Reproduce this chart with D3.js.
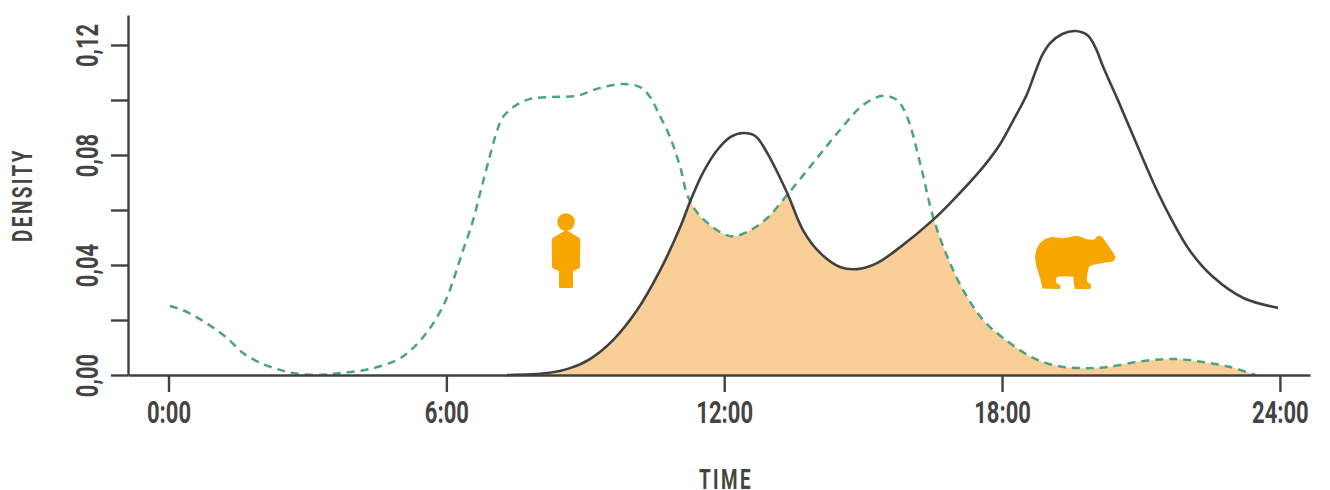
<!DOCTYPE html>
<html><head><meta charset="utf-8">
<script src="https://cdn.jsdelivr.net/npm/d3@7"></script>
<style>
html,body{margin:0;padding:0;background:#fff}
svg{display:block}
text{font-family:Roboto,"Liberation Sans",sans-serif;font-weight:700;fill:#444}
</style></head><body>
<svg id="c" width="1330" height="490"></svg>
<script>
const humanHours=[0.03,0.31,0.64,0.94,1.26,1.61,1.98,2.34,2.69,3.21,3.70,4.35,4.94,5.28,5.65,5.97,6.15,6.34,6.56,6.73,6.90,7.10,7.22,7.48,7.81,8.30,8.82,9.32,9.82,10.18,10.40,10.57,10.83,11.05,11.22,11.52,12.13,12.49,12.93,13.36,13.92,14.50,15.00,15.43,15.73,15.95,16.23,16.51,16.82,17.16,17.59,18.02,18.67,19.19,19.75,20.27,21.05,21.78,22.34,22.93,23.47];
const humanDensity=[.0251,.0236,.0207,.0175,.0135,.008,.0044,.0022,.0007,0,.0007,.0022,.0055,.0098,.0171,.0265,.0345,.0444,.0553,.0662,.0771,.0891,.0938,.0978,.1004,.1011,.1015,.1044,.1058,.1047,.1011,.0956,.0865,.0756,.0647,.0571,.0505,.052,.0571,.0655,.0771,.0891,.0982,.1015,.1,.0938,.0771,.0575,.0429,.0309,.02,.0135,.0062,.0033,.0025,.0029,.0051,.0058,.0047,.0029,0];
const bearHours=[7.31,8.18,8.67,9.10,9.60,10.12,10.62,11.05,11.26,11.54,11.85,12.13,12.41,12.67,12.93,13.36,13.70,14.07,14.50,14.87,15.30,15.80,16.51,16.88,17.59,17.96,18.24,18.54,18.71,18.87,19.04,19.30,19.58,19.84,20.01,20.18,20.49,20.83,21.26,21.63,22.06,22.56,23.21,23.96];
const bearDensity=[0,.0007,.0025,.0058,.0127,.0236,.0382,.0538,.0629,.0735,.0818,.0865,.088,.0869,.0807,.0662,.0527,.0444,.0393,.0385,.0407,.0465,.0564,.0625,.0756,.084,.0925,.1022,.1098,.1164,.1207,.124,.1251,.1236,.1193,.1122,.1004,.087,.0702,.0575,.0451,.0356,.028,.0244];
const xTicks=[0,6,12,18,24];
const xTickLabels=["0:00","6:00","12:00","18:00","24:00"];
const yTicks=[0,.02,.04,.06,.08,.10,.12];
const yTickLabels=["0,00","","0,04","","0,08","","0,12"];
const xTitle="TIME", yTitle="DENSITY";
const personOutline=[[0,8],[-13.5,16],[-14.3,18],[-14,45],[-13,46.5],[-7,49],[-7,65],[-6,66],[6,66],[7,65],[7,49],[13,46.5],[14,45],[14.3,18],[13.5,16]];
const bearOutline=[[1042.5,288.5],[1040,278],[1036,265],[1035,256.7],[1036.5,249],[1040,243],[1045,239],[1051.7,237],[1057,237.5],[1063,238.3],[1070,237],[1076.7,235.7],[1082,237.3],[1086.7,239.3],[1091,239.8],[1095,239.3],[1097,236.5],[1099,235.7],[1101.5,236.5],[1103,238],[1106.5,243],[1110,248],[1113,252.5],[1115.7,257.3],[1114,260.5],[1111.7,261.7],[1105,262.5],[1098,264],[1092,265],[1089,266.7],[1087.5,273],[1086.7,280],[1088,282.5],[1090.7,284.3],[1091,287.5],[1090,289],[1075,289],[1073.8,283],[1073.3,276.7],[1065,276.3],[1056.7,276.7],[1056,281.7],[1057,283.5],[1060,285],[1060.5,287.5],[1059.5,289]];

const INK="#404040",GREEN="#4da284",ORANGE="#f7a600",FILL="#f9cf97";
const svg=d3.select("#c");
const x=d3.scaleLinear().domain([-0.875,24.65]).range([128,1310]);
const y=d3.scaleLinear().domain([0,.1309]).range([375,15]);
const human=humanHours.map((h,i)=>[h,humanDensity[i]]);
const bear=bearHours.map((h,i)=>[h,bearDensity[i]]);
const curve=d3.curveCatmullRom.alpha(.5);
const line=d3.line().x(d=>x(d[0])).y(d=>y(d[1])).curve(curve);
const area=d3.area().x(d=>x(d[0])).y0(y(0)).y1(d=>y(d[1])).curve(curve);

svg.append("clipPath").attr("id","humanClip").append("path").attr("d",area(human));
svg.append("path").attr("d",area(bear)).attr("fill",FILL).attr("clip-path","url(#humanClip)");
svg.append("path").attr("d",line(human)).attr("fill","none").attr("stroke",GREEN).attr("stroke-width",2.5).attr("stroke-dasharray","8 6");
svg.append("path").attr("d",line(bear)).attr("fill","none").attr("stroke",INK).attr("stroke-width",2.6);

const gx=svg.append("g").attr("transform",`translate(0,${y(0)})`)
 .call(d3.axisBottom(x).tickValues(xTicks).tickSize(17).tickSizeOuter(0).tickFormat((d,i)=>xTickLabels[i]));
const gy=svg.append("g").attr("transform",`translate(${x.range()[0]},0)`)
 .call(d3.axisLeft(y).tickValues(yTicks).tickSize(17).tickSizeOuter(0).tickFormat((d,i)=>yTickLabels[i]));
[gx,gy].forEach(g=>{g.attr("font-family",null).attr("font-size",null);g.selectAll("path,line").attr("stroke",INK).attr("stroke-width",2.4);g.selectAll("text").style("font-size","31px")});
gx.selectAll("text").attr("x",0).attr("y",0).attr("dy",0).attr("text-anchor","middle").attr("transform","translate(0,48) scale(.71,1)");
gy.selectAll("text").attr("x",0).attr("y",0).attr("dy",0).attr("text-anchor","middle").attr("transform","translate(-30,0) rotate(-90) scale(.71,1)");

svg.append("text").attr("transform","translate(726,489) scale(.7,1)").attr("text-anchor","middle").style("font-size","27px").style("letter-spacing","3.5px").text(xTitle);
svg.append("text").attr("transform","translate(32,195) rotate(-90) scale(.7,1)").attr("text-anchor","middle").style("font-size","27px").style("letter-spacing","3.5px").text(yTitle);

// icons
const person=svg.append("g").attr("transform","translate(566,222)").attr("fill",ORANGE);
person.append("circle").attr("r",8.8);
person.append("path").attr("d",d3.line()(personOutline)+"Z");
svg.append("path").attr("d",d3.line()(bearOutline)+"Z").attr("fill",ORANGE);
</script>
</body></html>
